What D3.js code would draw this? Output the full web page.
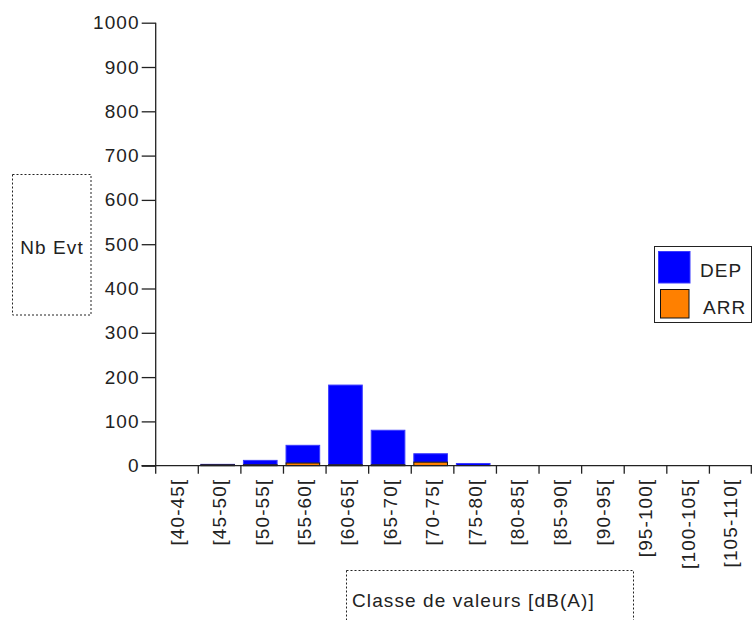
<!DOCTYPE html>
<html>
<head>
<meta charset="utf-8">
<script src="https://cdn.jsdelivr.net/npm/d3@7"></script>
<style>
  body { margin: 0; background: #fff; }
  svg text { font-family: "Liberation Sans", Arial, sans-serif; fill: #222; }
</style>
</head>
<body>
<svg id="chart" width="753" height="620"></svg>
<script>
const categories = ["[40-45[", "[45-50[", "[50-55[", "[55-60[", "[60-65[", "[65-70[", "[70-75[",
  "[75-80[", "[80-85[", "[85-90[", "[90-95[", "[95-100[", "[100-105[", "[105-110["];
const depValues = [0, 1, 10, 40, 180, 78, 19, 5, 0, 0, 0, 0, 0, 0];
const arrValues = [0, 2, 2, 6, 2, 2, 8, 0, 0, 0, 0, 0, 0, 0];
const yTicks = [0, 100, 200, 300, 400, 500, 600, 700, 800, 900, 1000];
const seriesNames = ["DEP", "ARR"];
const seriesColors = ["#0000ff", "#ff8000"];
const yTitle = "Nb Evt";
const xTitle = "Classe de valeurs [dB(A)]";

const svg = d3.select("#chart");
const FS = "19px", LS = "1.1px";
const x0 = 155.7, x1 = 752, yBase = 465.7, yTop = 22.7;

const x = d3.scaleBand().domain(categories).range([x0, x1]).paddingInner(0).paddingOuter(0);
const y = d3.scaleLinear().domain([0, 1000]).range([yBase, yTop]);

// bars (stacked: ARR at bottom, DEP above)
const bw = x.bandwidth() * 0.79;
const off = x.bandwidth() * 0.06;
const data = categories.map((c, i) => ({ c, arr: arrValues[i], dep: depValues[i] }));

svg.append("g").selectAll("rect").data(data.filter(d => d.dep > 0)).join("rect")
  .attr("x", d => x(d.c) + off)
  .attr("width", bw)
  .attr("y", d => y(d.arr + d.dep))
  .attr("height", d => y(d.arr) - y(d.arr + d.dep))
  .attr("fill", seriesColors[0])
  .attr("stroke", "#3a3aff").attr("stroke-width", 1);

svg.append("g").selectAll("rect").data(data.filter(d => d.arr > 0)).join("rect")
  .attr("x", d => x(d.c) + off)
  .attr("width", bw)
  .attr("y", d => y(d.arr))
  .attr("height", d => y(0) - y(d.arr))
  .attr("fill", seriesColors[1])
  .attr("stroke", "#111").attr("stroke-width", 1);

// y axis
const yAxis = d3.axisLeft(y).tickValues(yTicks).tickSize(14).tickPadding(2).tickFormat(d3.format("d"));
const gy = svg.append("g").attr("transform", `translate(${x0},0)`).call(yAxis);
gy.select(".domain").remove();
gy.selectAll(".tick line").attr("stroke", "#222").attr("stroke-width", 1.3);
gy.selectAll(".tick text").style("font-size", FS).style("letter-spacing", LS).attr("fill", "#222")
  .attr("font-family", "Liberation Sans, Arial, sans-serif");
svg.append("line").attr("x1", x0).attr("x2", x0).attr("y1", y(1000)).attr("y2", yBase + 8)
  .attr("stroke", "#222").attr("stroke-width", 1.3);

// x axis
const xAxis = d3.axisBottom(x).tickSize(0).tickFormat(d => d);
const gx = svg.append("g").attr("transform", `translate(0,${yBase})`).call(xAxis);
gx.select(".domain").remove();
gx.selectAll(".tick text")
  .style("font-size", FS).style("letter-spacing", LS).attr("fill", "#222")
  .attr("font-family", "Liberation Sans, Arial, sans-serif")
  .attr("text-anchor", "end")
  .attr("transform", "rotate(-90)")
  .attr("x", -13).attr("y", 0).attr("dy", "0.35em");
svg.append("line").attr("x1", 141.5).attr("x2", x1).attr("y1", yBase).attr("y2", yBase)
  .attr("stroke", "#222").attr("stroke-width", 1.3);
svg.append("g").selectAll("line").data(categories.slice(1).concat(["__end"])).join("line")
  .attr("x1", d => d === "__end" ? x1 - 0.7 : x(d))
  .attr("x2", d => d === "__end" ? x1 - 0.7 : x(d))
  .attr("y1", yBase).attr("y2", yBase + 8)
  .attr("stroke", "#222").attr("stroke-width", 1.3);

// y title with dotted box
svg.append("rect").attr("x", 12.5).attr("y", 174.5).attr("width", 78.5).attr("height", 140.5)
  .attr("fill", "none").attr("stroke", "#222").attr("stroke-dasharray", "2,2");
svg.append("text").attr("x", 52).attr("y", 254).attr("text-anchor", "middle")
  .style("font-size", FS).style("letter-spacing", LS).text(yTitle);

// x title with dotted box
svg.append("rect").attr("x", 346.5).attr("y", 570.5).attr("width", 287).attr("height", 80)
  .attr("fill", "none").attr("stroke", "#222").attr("stroke-dasharray", "2,2");
svg.append("text").attr("x", 352).attr("y", 607)
  .style("font-size", FS).style("letter-spacing", LS).text(xTitle);

// legend
const lg = svg.append("g");
lg.append("rect").attr("x", 654.5).attr("y", 246.5).attr("width", 97).attr("height", 76)
  .attr("fill", "#fff").attr("stroke", "#222").attr("stroke-width", 1);
lg.append("rect").attr("x", 658.5).attr("y", 251.5).attr("width", 31.5).attr("height", 31.5)
  .attr("fill", seriesColors[0]).attr("stroke", "#3a3aff");
lg.append("rect").attr("x", 660.5).attr("y", 289.5).attr("width", 28.5).attr("height", 28.5)
  .attr("fill", seriesColors[1]).attr("stroke", "#111");
lg.append("text").attr("x", 700).attr("y", 277).style("font-size", FS).style("letter-spacing", LS).text(seriesNames[0]);
lg.append("text").attr("x", 703).attr("y", 314).style("font-size", FS).style("letter-spacing", LS).text(seriesNames[1]);
</script>
</body>
</html>
